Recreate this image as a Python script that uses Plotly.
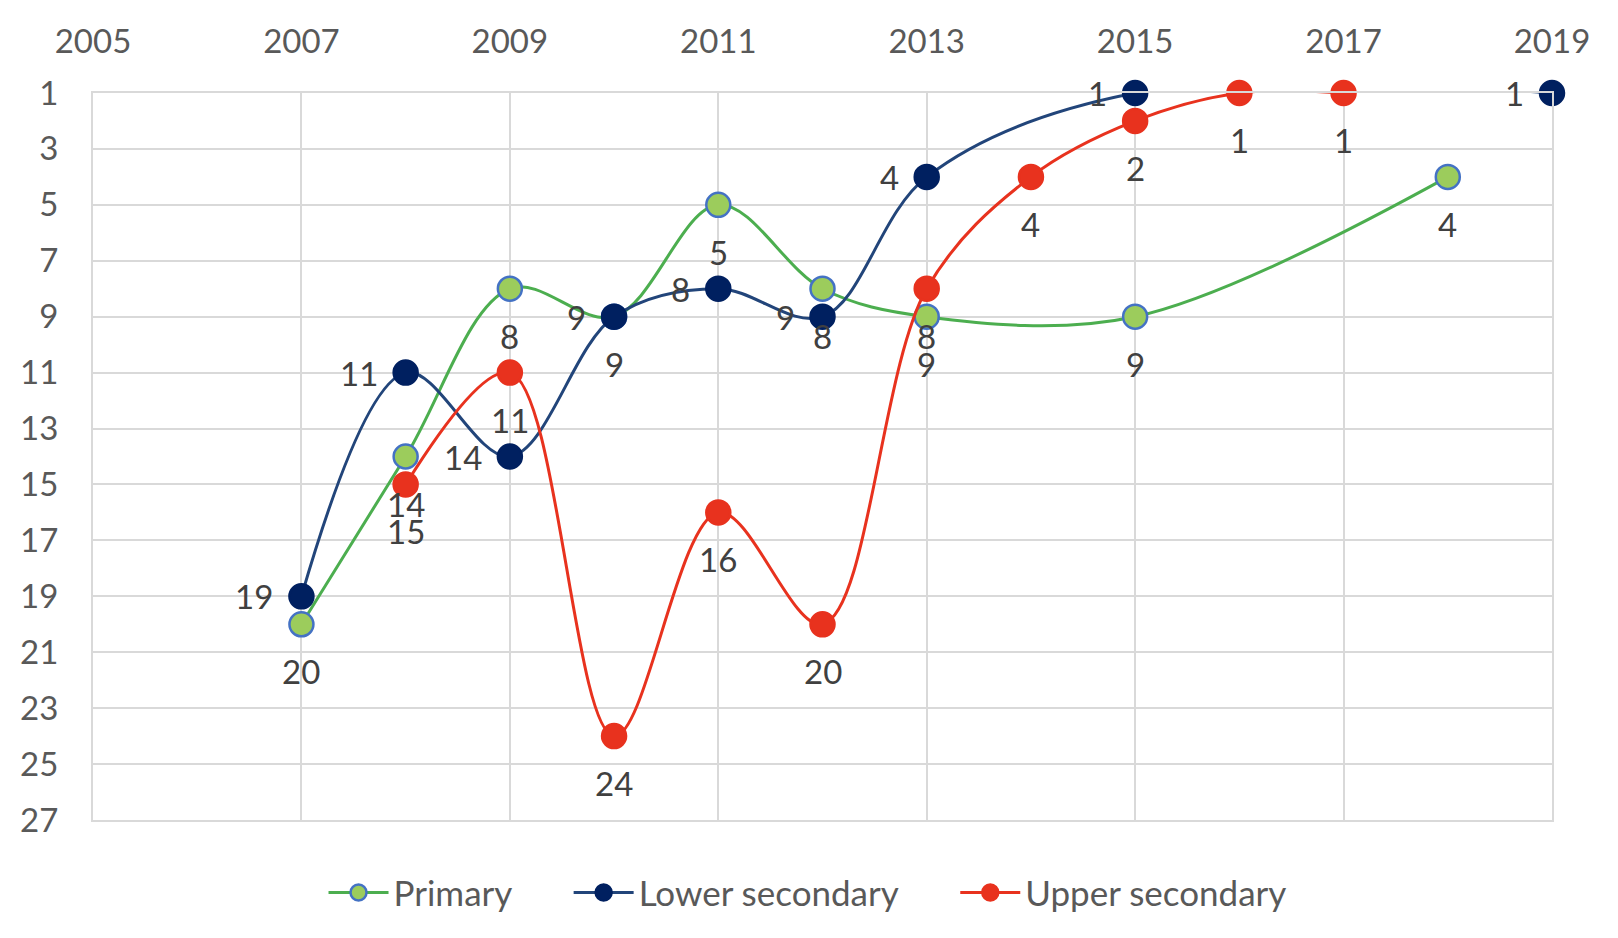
import plotly.graph_objects as go

# Data
primary_years = [2007, 2008, 2009, 2010, 2011, 2012, 2013, 2015, 2018]
primary_rank = [20, 14, 8, 9, 5, 8, 9, 9, 4]

lower_years = [2007, 2008, 2009, 2010, 2011, 2012, 2013, 2015, 2019]
lower_rank = [19, 11, 14, 9, 8, 9, 4, 1, 1]

upper_years = [2008, 2009, 2010, 2011, 2012, 2013, 2014, 2015, 2016, 2017]
upper_rank = [15, 11, 24, 16, 20, 8, 4, 2, 1, 1]

x_ticks = [2005, 2007, 2009, 2011, 2013, 2015, 2017, 2019]
y_ticks = list(range(1, 28, 2))

FONT = "Lato"
FS = 33
GRID = "#d9d9d9"

fig = go.Figure()

series = [
    ("Primary", primary_years, primary_rank, "#4cae4f", "#9ccc5c", "#4472c4", "below", "legend", 0.158),
    ("Lower secondary", lower_years, lower_rank, "#22457a", "#002060", "#002060", "left", "legend2", 0.326),
    ("Upper secondary", upper_years, upper_rank, "#e8321e", "#e8321e", "#e8321e", "below", "legend3", 0.591),
]

annotations = []
legends = {}
for name, xs, ys, lc, mfill, mline, pos, lg, lx in series:
    fig.add_trace(go.Scatter(
        x=xs, y=ys, name=name, mode="lines+markers", legend=lg, cliponaxis=False,
        line=dict(color=lc, width=3, shape="spline", smoothing=1.0),
        marker=dict(size=24, color=mfill, line=dict(color=mline, width=2.5)),
    ))
    legends[lg] = dict(orientation="h", x=lx, xanchor="left", y=-0.1, yanchor="middle",
                       font=dict(family=FONT, size=35, color="#595959"),
                       itemwidth=60, bgcolor="rgba(0,0,0,0)")
    for x, y in zip(xs, ys):
        if pos == "below":
            annotations.append(dict(x=x, y=y, text=str(y), showarrow=False,
                                    xanchor="center", yanchor="middle", yshift=-47,
                                    font=dict(family=FONT, size=FS, color="#404040")))
        else:
            annotations.append(dict(x=x, y=y, text=str(y), showarrow=False,
                                    xanchor="right", yanchor="middle", xshift=-26,
                                    font=dict(family=FONT, size=FS, color="#404040")))

fig.update_layout(
    width=1618, height=938,
    margin=dict(l=79, r=74, t=80, b=126),
    paper_bgcolor="white", plot_bgcolor="white",
    font=dict(family=FONT, size=FS, color="#595959"),
    annotations=annotations,
    showlegend=True,
    **legends,
)

fig.update_xaxes(
    side="top", range=[2005, 2019], tickvals=x_ticks, ticktext=[str(v) for v in x_ticks],
    showgrid=True, gridcolor=GRID, gridwidth=2, zeroline=False,
    showline=True, linecolor=GRID, linewidth=2, mirror=True,
    ticks="", ticklabelstandoff=25,
)
fig.update_yaxes(
    range=[27, 1], tickvals=y_ticks, ticktext=[str(v) for v in y_ticks],
    showgrid=True, gridcolor=GRID, gridwidth=2, zeroline=False,
    showline=True, linecolor=GRID, linewidth=2, mirror=True,
    ticks="", ticklabelstandoff=26,
)

fig.write_html("out.html")
